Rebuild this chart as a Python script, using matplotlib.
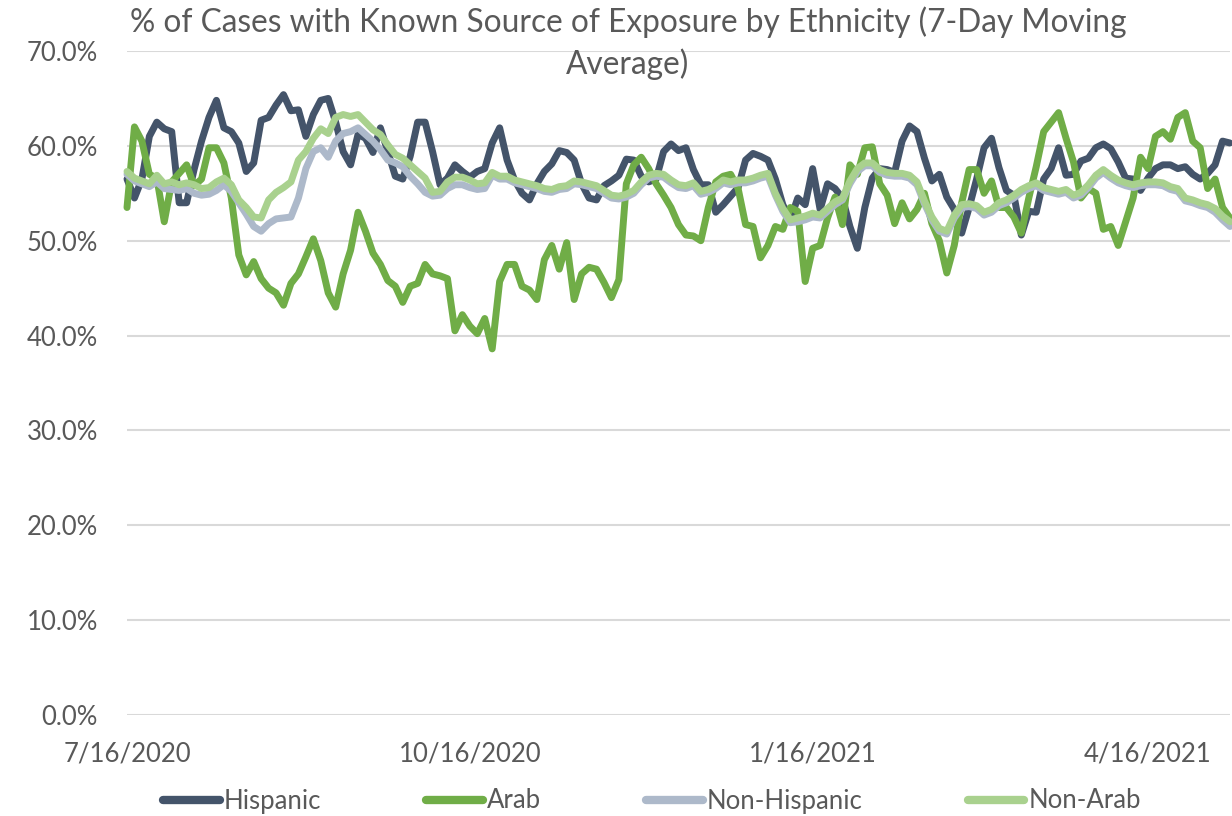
import matplotlib
matplotlib.use("Agg")
import matplotlib.pyplot as plt
import pandas as pd

plt.rcParams['font.family'] = ['Lato', 'DejaVu Sans']

# 7-day moving averages, one value every second day starting 7/16/2020
hispanic = [
    56.5, 54.5, 56.5, 61.0, 62.5, 61.8, 61.5, 54.0, 54.0, 57.5, 60.5, 63.0, 64.8,
    61.9, 61.5, 60.3, 57.3, 58.2, 62.7, 63.0, 64.3, 65.4, 63.7, 63.8, 61.0,
    63.3, 64.8, 65.0, 62.5, 59.4, 58.0, 61.2, 60.8, 59.3, 61.9, 59.4, 56.8,
    56.5, 58.9, 62.5, 62.5, 59.4, 55.9, 56.6, 58.0, 57.3, 56.7, 57.3, 57.6,
    60.3, 61.9, 58.5, 56.4, 55.0, 54.3, 56.0, 57.3, 58.1, 59.5, 59.3, 58.5,
    56.0, 54.5, 54.3, 55.8, 56.3, 56.9, 58.6, 58.5, 56.8, 56.2, 56.5, 59.4,
    60.2, 59.5, 59.8, 57.5, 55.9, 55.9, 53.0, 53.8, 54.7, 55.6, 58.5, 59.2,
    58.9, 58.5, 56.5, 53.8, 52.2, 54.5, 53.8, 57.6, 53.3, 56.0, 55.5, 54.5,
    51.5, 49.2, 53.5, 56.6, 57.6, 57.5, 57.2, 60.5, 62.1, 61.5, 58.7, 56.3,
    57.0, 54.6, 53.3, 50.8, 53.5, 56.5, 59.8, 60.8, 57.7, 55.3, 54.8, 50.6, 53.1,
    53.0, 56.5, 57.6, 59.8, 56.9, 57.0, 58.4, 58.7, 59.8, 60.2, 59.7, 58.3, 56.6,
    56.5, 55.3, 56.6, 57.6, 58.0, 58.0, 57.6, 57.8, 57.0, 56.5, 57.1, 58.0, 60.5, 60.3,
]

arab = [
    53.5, 62.0, 60.5, 57.0, 56.6, 52.0, 56.2, 57.1, 58.0, 55.8, 56.5, 59.8, 59.8,
    58.2, 54.5, 48.5, 46.4, 47.8, 46.0, 45.0, 44.5, 43.2, 45.5, 46.5, 48.3,
    50.2, 47.9, 44.5, 43.0, 46.5, 49.0, 53.0, 51.0, 48.7, 47.5, 45.8, 45.2,
    43.5, 45.2, 45.5, 47.5, 46.5, 46.3, 46.0, 40.5, 42.2, 41.0, 40.2, 41.8,
    38.6, 45.7, 47.5, 47.5, 45.2, 44.8, 43.8, 48.0, 49.5, 47.0, 49.8, 43.8,
    46.5, 47.2, 47.0, 45.6, 44.0, 45.9, 56.0, 58.0, 58.8, 57.6, 56.0, 54.8,
    53.5, 51.7, 50.6, 50.5, 50.0, 53.5, 56.2, 56.8, 57.0, 55.5, 51.7, 51.5,
    48.2, 49.5, 51.5, 51.2, 53.5, 53.1, 45.7, 49.2, 49.5, 52.4, 54.6, 51.7,
    58.0, 57.0, 59.8, 59.9, 56.0, 54.8, 51.8, 54.0, 52.3, 53.3, 55.0, 51.8,
    50.0, 46.6, 49.5, 54.0, 57.5, 57.5, 55.0, 56.3, 53.5, 53.5, 52.5, 50.8, 54.5,
    57.8, 61.5, 62.5, 63.5, 60.8, 58.3, 54.5, 55.5, 55.0, 51.2, 51.5, 49.5, 52.0,
    54.5, 58.8, 57.6, 61.0, 61.5, 60.7, 63.0, 63.5, 60.5, 59.8, 55.5, 56.5, 53.5, 52.4,
]

non_hispanic = [
    57.0, 56.3, 56.0, 55.7, 56.2, 55.5, 55.4, 55.3, 55.5, 55.0, 54.8, 54.9, 55.3,
    55.9, 55.2, 54.0, 52.8, 51.5, 51.0, 51.8, 52.3, 52.4, 52.5, 54.5, 57.6,
    59.4, 59.8, 58.8, 60.5, 61.3, 61.5, 61.9, 61.2, 60.5, 59.6, 58.5, 58.2,
    57.8, 56.8, 56.0, 55.1, 54.7, 54.8, 55.5, 55.9, 55.9, 55.6, 55.4, 55.5,
    56.9, 56.5, 56.5, 56.1, 55.9, 55.7, 55.5, 55.2, 55.1, 55.4, 55.5, 56.0,
    55.9, 55.7, 55.5, 55.0, 54.5, 54.4, 54.6, 55.0, 55.9, 56.6, 56.8, 56.7,
    56.1, 55.6, 55.5, 55.8, 54.9, 55.1, 55.5, 56.1, 55.9, 56.1, 56.1, 56.3,
    56.6, 56.8, 54.8, 53.1, 51.9, 52.0, 52.2, 52.5, 52.4, 53.1, 53.8, 54.3,
    56.0, 57.3, 57.9, 57.9, 57.2, 56.9, 56.8, 56.8, 56.6, 55.9, 53.9, 52.2,
    51.0, 50.7, 52.4, 53.5, 53.6, 53.4, 52.7, 53.0, 53.7, 54.0, 54.5, 55.1, 55.5,
    55.8, 55.3, 55.1, 54.9, 55.1, 54.5, 54.8, 55.6, 56.6, 57.2, 56.6, 56.1, 55.8,
    55.6, 55.8, 55.9, 55.9, 55.8, 55.4, 55.2, 54.2, 54.0, 53.7, 53.5, 53.0, 52.2, 51.5,
]

non_arab = [
    57.3, 56.6, 56.3, 56.0, 56.9, 56.0, 56.2, 55.9, 56.1, 55.9, 55.5, 55.6, 56.2,
    56.6, 55.9, 54.3, 53.5, 52.5, 52.4, 54.3, 55.1, 55.6, 56.2, 58.5, 59.4,
    60.8, 61.8, 61.3, 63.0, 63.3, 63.1, 63.3, 62.5, 61.7, 61.2, 60.1, 59.1,
    58.7, 58.0, 57.3, 56.6, 55.1, 55.2, 56.2, 56.7, 56.7, 56.4, 56.0, 56.1,
    57.2, 56.8, 56.8, 56.4, 56.2, 56.0, 55.8, 55.5, 55.4, 55.7, 55.8, 56.3,
    56.2, 56.0, 55.8, 55.3, 54.8, 54.7, 54.9, 55.3, 56.2, 56.9, 57.1, 57.0,
    56.4, 55.9, 55.8, 56.1, 55.2, 55.4, 55.8, 56.4, 56.2, 56.4, 56.4, 56.6,
    56.9, 57.1, 55.0, 53.4, 52.2, 52.4, 52.6, 52.9, 52.7, 53.4, 54.1, 54.5,
    56.3, 57.6, 58.2, 58.2, 57.5, 57.2, 57.1, 57.1, 56.9, 56.2, 54.2, 52.5,
    51.3, 51.0, 52.7, 53.8, 53.9, 53.7, 53.0, 53.3, 54.0, 54.3, 54.8, 55.4, 55.8,
    56.1, 55.6, 55.4, 55.2, 55.4, 54.8, 55.1, 55.9, 56.9, 57.5, 56.9, 56.4, 56.1,
    55.9, 56.1, 56.2, 56.2, 56.1, 55.7, 55.5, 54.5, 54.3, 54.0, 53.8, 53.4, 52.6, 52.0,
]

series_names = ['Hispanic', 'Arab', 'Non-Hispanic', 'Non-Arab']
series_colors = ['#44546A', '#70AD47', '#ADB9CA', '#A9D18E']
y_ticks = [0, 10, 20, 30, 40, 50, 60, 70]
x_tick_dates = ['2020-07-16', '2020-10-16', '2021-01-16', '2021-04-16']
title_lines = ['% of Cases with Known Source of Exposure by Ethnicity (7-Day Moving',
               'Average)']

start = pd.Timestamp('2020-07-16')
end = pd.Timestamp('2021-05-08')
text_color = '#595959'

fig = plt.figure(figsize=(12.32, 8.16), dpi=100)
ax = fig.add_axes([127 / 1232, 1 - 715 / 816, 1103 / 1232, 664 / 816])

for name, vals, color in zip(series_names, [hispanic, arab, non_hispanic, non_arab], series_colors):
    dates = pd.date_range(start, periods=len(vals), freq='2D')
    ax.plot(dates, vals, color=color, lw=5.0, label=name,
            solid_capstyle='round', solid_joinstyle='round', clip_on=False)

ax.set_ylim(0, 70)
ax.set_yticks(y_ticks)
ax.set_yticklabels([f'{v:.1f}%' for v in y_ticks])
ax.set_xlim(start, end)
ticks = pd.to_datetime(x_tick_dates)
ax.set_xticks(ticks)
ax.set_xticklabels([f'{d.month}/{d.day}/{d.year}' for d in ticks])

ax.grid(axis='y', color='#D9D9D9', lw=1.5)
ax.grid(axis='x', visible=False)
ax.set_axisbelow(True)
for s in ax.spines.values():
    s.set_visible(False)
ax.tick_params(axis='both', length=0, labelsize=18.5, colors=text_color)
ax.tick_params(axis='y', pad=21)
ax.tick_params(axis='x', pad=19)

# two-line chart title, centred over the chart
for text, y_px in zip(title_lines, [22, 64]):
    fig.text(628 / 1232, 1 - y_px / 816, text, ha='center', va='center',
             fontsize=22.8, color=text_color)

handles, labels = ax.get_legend_handles_labels()
leg = fig.legend(handles, labels, loc='center', bbox_to_anchor=(652 / 1232, 1 - 801 / 816),
                 ncol=4, frameon=False, fontsize=18.5, handlelength=2.2,
                 handletextpad=0.15, columnspacing=4.1, labelcolor=text_color)
for line in leg.get_lines():
    line.set_linewidth(6.0)
    line.set_solid_capstyle('round')

fig.savefig('out.png', dpi=100)
